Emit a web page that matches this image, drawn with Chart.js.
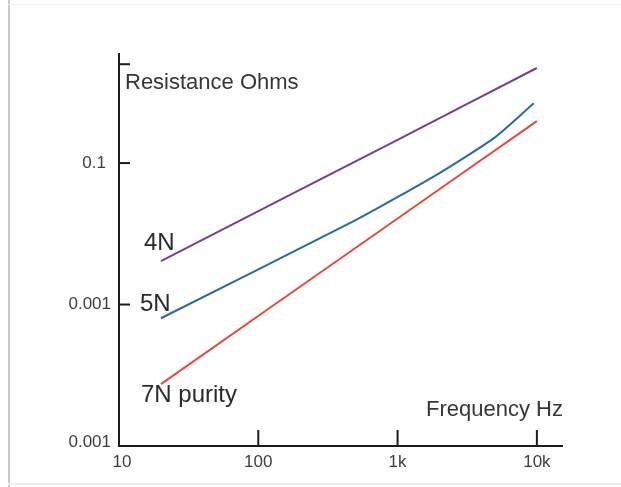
<!DOCTYPE html>
<html>
<head>
<meta charset="utf-8">
<script src="https://cdn.jsdelivr.net/npm/chart.js@4"></script>
<style>
  body { margin: 0; background: #fff; }
  canvas { display: block; }
</style>
</head>
<body>
<canvas id="grafico" width="621" height="487"></canvas>
<script>
// valores
const freq4N = [20, 1000, 10000];
const res4N = [0.0203, 0.146, 0.47];

const freq5N = [20, 500, 2000, 5000, 9500];
const res5N = [0.008, 0.0395, 0.085, 0.152, 0.265];

const freq7N = [20, 1000, 10000];
const res7N = [0.00274, 0.0406, 0.198];

const serieNomes = ['4N', '5N', '7N purity'];

const xTickValues = [10, 100, 1000, 10000];
const xTickLabels = ['10', '100', '1k', '10k'];
const yTickValues = [0.001, 0.01, 0.1, 0.5];
const yTickLabels = ['0.001', '0.001', '0.1', ''];

function pontos(xs, ys) {
  return xs.map((x, i) => ({ x: x, y: ys[i] }));
}

const FONTE = '"Liberation Sans", Arial, sans-serif';

// desenha eixos, ticks e textos na mão (estilo da figura original)
const eixosPlugin = {
  id: 'eixos',
  beforeDraw(chart) {
    const c = chart.ctx;
    c.save();
    c.fillStyle = '#fff';
    c.fillRect(0, 0, chart.width, chart.height);
    c.fillStyle = '#c9c9c9';
    c.fillRect(8, 0, 2, chart.height);
    c.fillStyle = '#efefef';
    c.fillRect(8, 4, chart.width - 8, 1);
    c.fillRect(8, 483, chart.width - 8, 2);
    c.restore();
  },
  afterDatasetsDraw(chart) {
    const c = chart.ctx;
    const xs = chart.scales.x, ys = chart.scales.y;
    const a = chart.chartArea;
    c.save();
    c.strokeStyle = '#1c1c1c';
    c.lineWidth = 2;
    c.beginPath();
    c.moveTo(a.left, a.top);
    c.lineTo(a.left, a.bottom);
    c.lineTo(a.right, a.bottom);
    c.stroke();

    // ticks x (para dentro)
    c.font = '17px ' + FONTE;
    c.fillStyle = '#3e3e3e';
    c.textAlign = 'center';
    c.textBaseline = 'middle';
    xTickValues.forEach((v, i) => {
      const px = xs.getPixelForValue(v);
      if (i > 0) {
        c.beginPath();
        c.moveTo(px, a.bottom);
        c.lineTo(px, a.bottom - 16);
        c.stroke();
      }
      c.fillText(xTickLabels[i], px + (i === 0 ? 3 : 0), a.bottom + 16);
    });

    // ticks y
    c.textAlign = 'right';
    yTickValues.forEach((v, i) => {
      const py = ys.getPixelForValue(v);
      if (i > 0) {
        c.beginPath();
        c.moveTo(a.left, py);
        c.lineTo(a.left + 11, py);
        c.stroke();
      }
      c.fillText(yTickLabels[i], a.left - (i === 2 ? 13 : 8), py - (i === 0 ? 4 : 0));
    });

    // titulos dos eixos
    c.font = '22px ' + FONTE;
    c.fillStyle = '#363636';
    c.textAlign = 'left';
    c.fillText('Resistance Ohms', a.left + 6, a.top + 30);
    c.textAlign = 'right';
    c.fillText('Frequency Hz', a.right, a.bottom - 36);

    // nomes das curvas, perto do primeiro ponto
    const desloc = [[-17, -18], [-21, -14], [-20, 11]];
    c.font = '24px ' + FONTE;
    c.fillStyle = '#2a2a2a';
    c.textAlign = 'left';
    chart.data.datasets.forEach((ds, i) => {
      const p0 = ds.data[0];
      const px = xs.getPixelForValue(p0.x);
      const py = ys.getPixelForValue(p0.y);
      c.fillText(serieNomes[i], px + desloc[i][0], py + desloc[i][1]);
    });
    c.restore();
  }
};

const ctx = document.getElementById('grafico').getContext('2d');
const grafico = new Chart(ctx, {
  type: 'line',
  data: {
    datasets: [
      { label: serieNomes[0], data: pontos(freq4N, res4N), borderColor: '#7a3d8e', borderWidth: 2 },
      { label: serieNomes[1], data: pontos(freq5N, res5N), borderColor: '#2a6aa5', borderWidth: 2 },
      { label: serieNomes[2], data: pontos(freq7N, res7N), borderColor: '#e8483a', borderWidth: 2 },
    ],
  },
  options: {
    responsive: false,
    animation: false,
    layout: { padding: { left: 119, right: 58, top: 53, bottom: 41 } },
    elements: { point: { radius: 0 }, line: { tension: 0.2 } },
    plugins: { legend: { display: false }, tooltip: { enabled: false } },
    scales: {
      x: { type: 'logarithmic', min: 10, max: 15400, display: false },
      y: { type: 'logarithmic', min: 0.001, max: 0.6, display: false },
    },
  },
  plugins: [eixosPlugin],
});
</script>
</body>
</html>
